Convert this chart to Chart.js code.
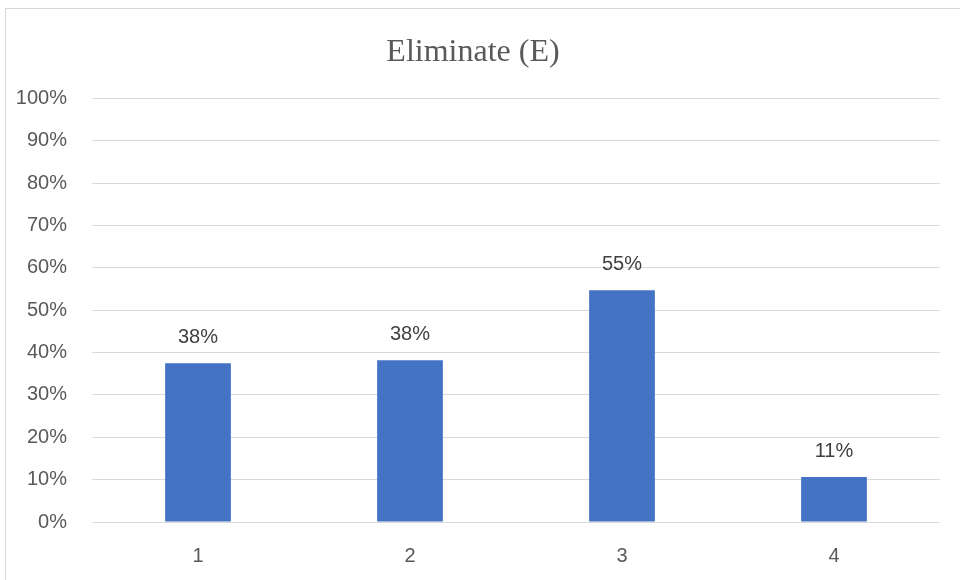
<!DOCTYPE html>
<html>
<head>
<meta charset="utf-8">
<script src="https://cdn.jsdelivr.net/npm/chart.js@4"></script>
<style>
  body { margin: 0; background: #fff; }
  #frame {
    position: absolute; left: 5px; top: 8px;
    width: 955px; height: 572px;
    border-left: 1px solid #d9d9d9; border-top: 1px solid #d9d9d9;
  }
</style>
</head>
<body>
<div id="frame"><canvas id="myChart" width="954" height="571"></canvas></div>
<script>
// Bar chart data
var categories = ['1', '2', '3', '4'];
var shares = [0.375, 0.382, 0.547, 0.106];
var yTicks = [0, 0.1, 0.2, 0.3, 0.4, 0.5, 0.6, 0.7, 0.8, 0.9, 1];

var textColor = '#595959';
var sansFont = "'Liberation Sans', Arial, sans-serif";

function pct(v) {
    return Math.round(v * 100) + '%';
}

// value labels above each bar
var barLabels = {
    id: 'barLabels',
    afterDatasetsDraw: function(chart) {
        var ctx = chart.ctx;
        var meta = chart.getDatasetMeta(0);
        ctx.save();
        ctx.font = '20px ' + sansFont;
        ctx.fillStyle = '#404040';
        ctx.textAlign = 'center';
        ctx.textBaseline = 'middle';
        meta.data.forEach(function(bar, i) {
            ctx.fillText(pct(shares[i]), bar.x, bar.y - 26);
        });
        ctx.restore();
    }
};

var ctx = document.getElementById('myChart').getContext('2d');
var myChart = new Chart(ctx, {
    type: 'bar',
    data: {
        labels: categories,
        datasets: [{
            data: shares,
            backgroundColor: '#4472c4',
            borderWidth: 0,
            categoryPercentage: 1,
            barPercentage: 0.31
        }]
    },
    options: {
        responsive: false,
        animation: false,
        layout: { padding: { left: 0, right: 20, top: 0, bottom: 0 } },
        plugins: {
            legend: { display: false },
            tooltip: { enabled: false },
            title: {
                display: true,
                text: 'Eliminate (E)',
                color: textColor,
                font: { family: "'Liberation Serif', 'Times New Roman', serif", size: 32, weight: 'normal' },
                padding: { top: 24, bottom: 27 }
            }
        },
        scales: {
            x: {
                grid: { display: false },
                border: { display: false },
                ticks: { color: textColor, font: { family: sansFont, size: 20 }, padding: 14 },
                afterFit: function(scale) { scale.height = 58; }
            },
            y: {
                min: 0,
                max: 1,
                afterBuildTicks: function(scale) {
                    scale.ticks = yTicks.map(function(v) { return { value: v }; });
                },
                grid: { color: '#d9d9d9', lineWidth: 1, drawTicks: false },
                border: { display: false },
                ticks: {
                    color: textColor,
                    font: { family: sansFont, size: 20 },
                    padding: 25,
                    callback: function(v) { return pct(v); }
                },
                afterFit: function(scale) { scale.width = 86; }
            }
        }
    },
    plugins: [barLabels]
});
</script>
</body>
</html>
